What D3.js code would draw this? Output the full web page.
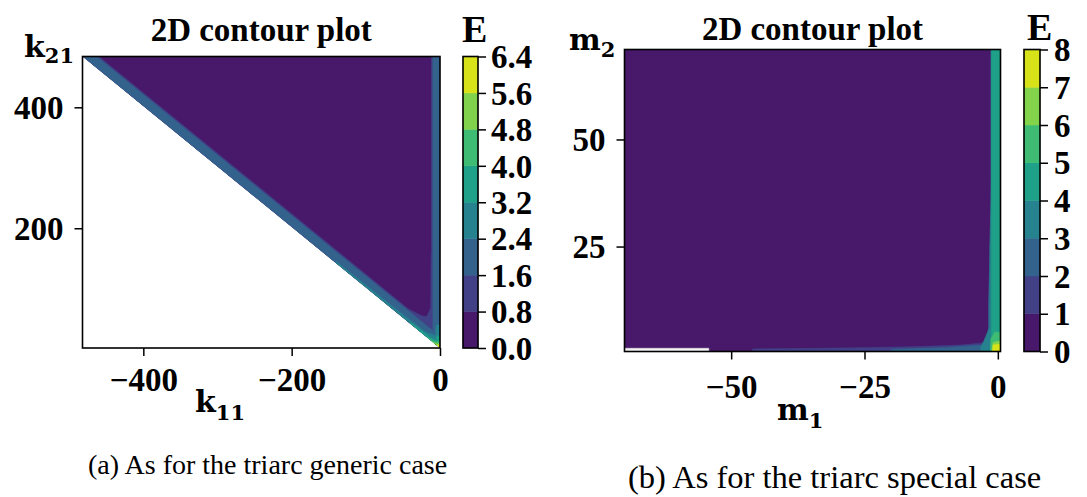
<!DOCTYPE html>
<html>
<head>
<meta charset="utf-8">
<script src="https://cdn.jsdelivr.net/npm/d3@7"></script>
<style>
  html, body { margin: 0; padding: 0; background: #ffffff; }
  svg { display: block; }
</style>
</head>
<body>
<svg id="fig" width="1087" height="497"></svg>
<script>
// ---------------- data ----------------
// (a) triarc generic case: E over (k11, k21)
const genericLevels = [0, 0.8, 1.6, 2.4, 3.2, 4.0, 4.8, 5.6, 6.4];
const genericLevelLabels = ["0.0", "0.8", "1.6", "2.4", "3.2", "4.0", "4.8", "5.6", "6.4"];
const genericK11Range = [-482, 0];
const genericK21Range = [2, 484];
const genericXTicks = [-400, -200, 0];
const genericXTickLabels = ["\u2212400", "\u2212200", "0"];
const genericYTicks = [200, 400];
const genericYTickLabels = ["200", "400"];
// region where E is defined (k21 >= -k11 + 2)
const genericDomain = [[-482, 484], [0, 484], [0, 2]];
// filled contour regions, lowest band first: band index into the levels, outline in (k11, k21)
const genericBands = [
  { band: 0, pts: [[-482, 484], [0, 484], [0, 2]] },
  { band: 1, pts: [[-482, 484], [0, 2], [0, 24], [-460, 484]] },
  { band: 1, pts: [[-11.5, 484], [0, 484], [0, 2], [-45, 47], [-45, 68], [-24, 55], [-18, 54], [-12.5, 68], [-12, 160], [-11.5, 160]] },
  { band: 2, pts: [[-482, 484], [0, 2], [0, 21], [-463, 484]] },
  { band: 2, pts: [[-9.5, 484], [0, 484], [0, 2], [-9.5, 2]] },
  { band: 3, pts: [[-140, 142], [0, 2], [0, 40], [-5, 40], [-6, 22], [-20, 29], [-60, 67], [-140, 145]] },
  { band: 4, pts: [[-40, 42], [0, 2], [0, 22], [-4, 22], [-6, 14], [-14, 20], [-40, 44.5]] },
  { band: 5, pts: [[-16, 18], [0, 2], [0, 14], [-4, 12], [-8, 13], [-16, 19]] },
  { band: 6, pts: [[-9, 11], [0, 2], [0, 10], [-4, 8.5], [-9, 11.5]] },
  { band: 7, pts: [[-5, 7], [0, 2], [0, 7.5], [-3, 7]] }
];

// (b) triarc special case: E over (m1, m2)
const specialLevels = [0, 1, 2, 3, 4, 5, 6, 7, 8];
const specialLevelLabels = ["0", "1", "2", "3", "4", "5", "6", "7", "8"];
const specialM1Range = [-70, 0.5];
const specialM2Range = [0.5, 71];
const specialXTicks = [-50, -25, 0];
const specialXTickLabels = ["\u221250", "\u221225", "0"];
const specialYTicks = [25, 50];
const specialYTickLabels = ["25", "50"];
const specialDomain = [[-70, 0.5], [0.5, 0.5], [0.5, 71], [-70, 71]];
const specialBands = [
  { band: 0, pts: [[-70, 0.5], [0.5, 0.5], [0.5, 71], [-70, 71]] },
  { band: 1, pts: [[-46, 0.5], [0.5, 0.5], [0.5, 3], [-2, 2.6], [-7, 2.0], [-16, 1.6], [-30, 1.3], [-46, 1.1]] },
  { band: 2, pts: [[-20, 0.5], [0.5, 0.5], [0.5, 2.4], [-3, 2.0], [-10, 1.4], [-20, 1.0]] },
  { band: 2, pts: [[-1.75, 0.5], [0.5, 0.5], [0.5, 71], [-1.3, 71], [-1.3, 30], [-1.75, 12]] },
  { band: 3, pts: [[-1.5, 0.5], [0.5, 0.5], [0.5, 71], [-1.2, 71], [-1.2, 40], [-1.5, 25]] },
  { band: 3, pts: [[-3.2, 0.5], [-1.2, 0.5], [-1.2, 6], [-1.6, 6], [-2.6, 3], [-3.2, 1.5]] },
  { band: 4, pts: [[-1.2, 0.5], [0.5, 0.5], [0.5, 71], [-1.2, 71]] },
  { band: 5, pts: [[-1.4, 0.5], [0.5, 0.5], [0.5, 5], [-0.6, 5], [-1.3, 3.5]] },
  { band: 6, pts: [[-1.1, 0.5], [0.5, 0.5], [0.5, 3], [-0.9, 2.6]] },
  { band: 7, pts: [[-1.0, 0.5], [0.5, 0.5], [0.5, 2.2], [-0.9, 2.0]] }
];
// samples with no value (left blank)
const specialMissing = [[-70, 0.5], [-54.2, 0.5], [-54.2, 1.25], [-70, 1.25]];

// ---------------- drawing ----------------
const svg = d3.select("#fig");
const BOLD = "'Liberation Serif', 'Times New Roman', serif";
const MATH = "'DejaVu Serif', serif";

function drawPanel(cfg) {
  const g = svg.append("g");
  const x = d3.scaleLinear().domain(cfg.xRange).range([cfg.left, cfg.right]);
  const y = d3.scaleLinear().domain(cfg.yRange).range([cfg.bottom, cfg.top]);
  const lv = cfg.levels;
  const color = d3.scaleSequential(d3.interpolateViridis).domain([lv[0], lv[lv.length - 1]]);
  const bandColor = i => color((lv[i] + lv[i + 1]) / 2);
  const line = d3.line().x(d => x(d[0])).y(d => y(d[1]));

  const clipId = cfg.id + "-clip";
  g.append("clipPath").attr("id", clipId)
    .append("path").attr("d", line(cfg.domain) + "Z");

  const field = g.append("g").attr("clip-path", `url(#${clipId})`);
  field.selectAll("path.band").data(cfg.bands).join("path")
    .attr("class", "band")
    .attr("d", d => line(d.pts) + "Z")
    .attr("fill", d => bandColor(d.band))
    .attr("stroke", d => bandColor(d.band))
    .attr("stroke-width", 0.6)
    .attr("stroke-linejoin", "round");
  if (cfg.missing) {
    field.append("path").attr("d", line(cfg.missing) + "Z")
      .attr("fill", "#f4f4f4").attr("stroke", "#e2e2e2").attr("stroke-width", 0.6);
  }

  // axes
  const xAxis = g.append("g").attr("transform", `translate(0,${cfg.bottom})`)
    .call(d3.axisBottom(x).tickValues(cfg.xTicks).tickSize(8).tickPadding(cfg.xPad)
      .tickFormat((d, i) => cfg.xTickLabels[i]));
  const yAxis = g.append("g").attr("transform", `translate(${cfg.left},0)`)
    .call(d3.axisLeft(y).tickValues(cfg.yTicks).tickSize(8).tickPadding(cfg.yPad)
      .tickFormat((d, i) => cfg.yTickLabels[i]));
  [xAxis, yAxis].forEach(a => {
    a.select(".domain").remove();
    a.selectAll(".tick line").attr("stroke", "#000").attr("stroke-width", 1.5);
    a.selectAll(".tick text").attr("font-family", BOLD).attr("font-weight", "bold")
      .attr("font-size", 33).attr("fill", "#000");
  });
  yAxis.selectAll(".tick text").attr("dy", "0.34em");

  // frame
  g.append("rect").attr("x", cfg.left).attr("y", cfg.top)
    .attr("width", cfg.right - cfg.left).attr("height", cfg.bottom - cfg.top)
    .attr("fill", "none").attr("stroke", "#000").attr("stroke-width", 1.6);

  // title
  g.append("text").attr("x", (cfg.left + cfg.right) / 2).attr("y", cfg.titleY)
    .attr("text-anchor", "middle").attr("font-family", BOLD).attr("font-weight", "bold")
    .attr("font-size", 33).text("2D contour plot");

  // axis labels (letter with subscript)
  function mathLabel(lab) {
    const t = g.append("text").attr("x", lab.x).attr("y", lab.y)
      .attr("font-family", MATH).attr("font-weight", "bold").attr("font-size", 30);
    t.append("tspan").text(lab.base);
    t.append("tspan").attr("font-size", 21).attr("dy", lab.sub).text(lab.subText);
  }
  mathLabel(cfg.xLabel);
  mathLabel(cfg.yLabel);

  // colorbar
  const cb = d3.scaleLinear().domain([lv[0], lv[lv.length - 1]]).range([cfg.bottom, cfg.top]);
  const cbg = g.append("g");
  cbg.selectAll("rect.level").data(d3.range(lv.length - 1)).join("rect")
    .attr("class", "level")
    .attr("x", cfg.cbLeft).attr("width", cfg.cbWidth)
    .attr("y", i => cb(lv[i + 1])).attr("height", i => cb(lv[i]) - cb(lv[i + 1]))
    .attr("fill", i => bandColor(i)).attr("stroke", i => bandColor(i)).attr("stroke-width", 0.5);
  cbg.append("rect").attr("x", cfg.cbLeft).attr("y", cfg.top)
    .attr("width", cfg.cbWidth).attr("height", cfg.bottom - cfg.top)
    .attr("fill", "none").attr("stroke", "#000").attr("stroke-width", 1.6);
  const cbAxis = cbg.append("g").attr("transform", `translate(${cfg.cbLeft + cfg.cbWidth},0)`)
    .call(d3.axisRight(cb).tickValues(lv).tickSize(8).tickPadding(cfg.cbPad)
      .tickFormat((d, i) => cfg.levelLabels[i]));
  cbAxis.select(".domain").remove();
  cbAxis.selectAll(".tick line").attr("stroke", "#000").attr("stroke-width", 1.5);
  cbAxis.selectAll(".tick text").attr("font-family", BOLD).attr("font-weight", "bold")
    .attr("font-size", 33).attr("fill", "#000").attr("dy", "0.34em");
  cbg.append("text").attr("x", cfg.cbLeft + cfg.eDx).attr("y", cfg.eY)
    .attr("font-family", BOLD).attr("font-weight", "bold").attr("font-size", 38).text("E");

  // caption
  svg.append("text").attr("x", cfg.caption.x).attr("y", cfg.caption.y)
    .attr("font-family", BOLD).attr("font-size", cfg.caption.size).text(cfg.caption.text);
}

drawPanel({
  id: "generic",
  left: 82.5, right: 440, top: 56.5, bottom: 348,
  xRange: genericK11Range, yRange: genericK21Range,
  levels: genericLevels, levelLabels: genericLevelLabels,
  domain: genericDomain, bands: genericBands,
  xTicks: genericXTicks, xTickLabels: genericXTickLabels, xPad: 12,
  yTicks: genericYTicks, yTickLabels: genericYTickLabels, yPad: 11,
  titleY: 41,
  xLabel: { x: 195, y: 412, base: "k", subText: "11", sub: 8 },
  yLabel: { x: 24, y: 57, base: "k", subText: "21", sub: 6 },
  cbLeft: 463, cbWidth: 15, cbPad: 5, eDx: -1, eY: 42,
  caption: { x: 88, y: 474, size: 28, text: "(a) As for the triarc generic case" }
});

drawPanel({
  id: "special",
  left: 624.5, right: 1000.5, top: 49.5, bottom: 351.5,
  xRange: specialM1Range, yRange: specialM2Range,
  levels: specialLevels, levelLabels: specialLevelLabels,
  domain: specialDomain, bands: specialBands, missing: specialMissing,
  xTicks: specialXTicks, xTickLabels: specialXTickLabels, xPad: 15,
  yTicks: specialYTicks, yTickLabels: specialYTickLabels, yPad: 11,
  titleY: 40,
  xLabel: { x: 777, y: 420, base: "m", subText: "1", sub: 8 },
  yLabel: { x: 569, y: 50, base: "m", subText: "2", sub: 7 },
  cbLeft: 1024, cbWidth: 16, cbPad: 6, eDx: 3, eY: 40,
  caption: { x: 628, y: 488, size: 32.5, text: "(b) As for the triarc special case" }
});
</script>
</body>
</html>
